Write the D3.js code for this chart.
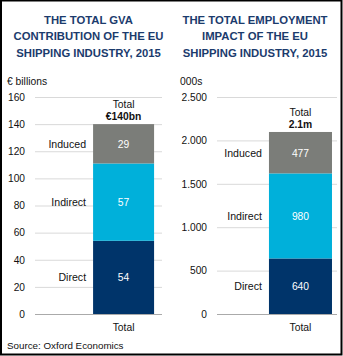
<!DOCTYPE html>
<html lang="en">
<head>
<meta charset="UTF-8">
<title>EU Shipping Industry 2015</title>
<script src="https://d3js.org/d3.v7.min.js"></script>
<style>
  body { margin: 0; background: #fff; }
  svg { font-family: "Liberation Sans", Arial, sans-serif; display: block; }
</style>
</head>
<body>
<div class="chart"></div>
<script>
    // data
    const categories = ["Direct", "Indirect", "Induced"];
    const gvaValues = [54, 57, 29];
    const jobValues = [640, 980, 477];
    const gvaTicks = [0, 20, 40, 60, 80, 100, 120, 140, 160];
    const jobTicks = [0, 500, 1000, 1500, 2000, 2500];
    const colors = ["#00346a", "#00b0da", "#7b7d79"];

    const W = 343, H = 356;
    const svg = d3.select(".chart").append("svg")
        .attr("width", W).attr("height", H);

    svg.append("rect").attr("x", 1).attr("y", 0.5).attr("width", W - 2.5).attr("height", H - 2)
        .attr("fill", "#fff").attr("stroke", "#000").attr("stroke-width", 2);

    const dotFmt = d3.formatLocale({decimal: ",", thousands: ".", grouping: [3], currency: ["", ""]}).format(",d");

    function panel(opt) {
        const y = d3.scaleLinear().domain([0, opt.ticks[opt.ticks.length - 1]]).range([314, 97]);
        const x = d3.scaleBand().domain(["Total"]).range([opt.gx0, opt.gx1])
            .paddingInner(0).paddingOuter(opt.pad).align(opt.align);
        const g = svg.append("g");

        // title
        g.append("text").attr("x", opt.tx).attr("y", 24)
            .attr("text-anchor", "middle").attr("font-size", 11.3).attr("font-weight", "bold").attr("fill", "#1b3b6d")
            .selectAll("tspan").data(opt.title).join("tspan")
            .attr("x", opt.tx).attr("dy", (d, i) => i === 0 ? 0 : 16.3).text(d => d);

        g.append("text").attr("x", opt.ux).attr("y", 85).attr("font-size", 10.3).attr("fill", "#111").text(opt.unit);

        // y axis
        const yAxis = d3.axisLeft(y).tickValues(opt.ticks).tickSize(-(opt.gx1 - opt.gx0)).tickPadding(opt.gx0 - opt.labelRight).tickFormat(opt.fmt);
        const ya = g.append("g").attr("transform", `translate(${opt.gx0},0)`).call(yAxis);
        ya.select(".domain").remove();
        ya.selectAll(".tick line").attr("stroke", d => d === 0 ? "#aaa" : "#d9d9d9");
        ya.selectAll(".tick text").attr("font-size", 10.2).attr("fill", "#111").attr("font-family", "Liberation Sans, Arial, sans-serif");

        // stacked bar
        const row = {Total: "Total"};
        categories.forEach((c, i) => row[c] = opt.values[i]);
        const series = d3.stack().keys(categories)([row]);
        const segs = g.selectAll(".seg").data(series).join("g").attr("class", "seg");
        segs.append("rect")
            .attr("x", x("Total")).attr("width", x.bandwidth())
            .attr("y", d => y(d[0][1])).attr("height", d => y(d[0][0]) - y(d[0][1]))
            .attr("fill", (d, i) => colors[i]);
        segs.append("text")
            .attr("x", x("Total") + x.bandwidth() / 2).attr("y", d => y((d[0][0] + d[0][1]) / 2) + 4)
            .attr("text-anchor", "middle").attr("font-size", 10.3).attr("fill", "#fff")
            .text(d => d[0].data[d.key]);
        segs.append("text")
            .attr("x", x("Total") - 7).attr("y", d => y((d[0][0] + d[0][1]) / 2) + 4)
            .attr("text-anchor", "end").attr("font-size", 10.6).attr("fill", "#111")
            .text(d => d.key);

        // total label
        const top = y(d3.sum(opt.values));
        const cx = x("Total") + x.bandwidth() / 2;
        g.append("text").attr("x", cx).attr("y", top - 16).attr("text-anchor", "middle")
            .attr("font-size", 10.3).attr("fill", "#111").text("Total");
        g.append("text").attr("x", cx).attr("y", top - 4).attr("text-anchor", "middle")
            .attr("font-size", 10.3).attr("font-weight", "bold").attr("fill", "#111").text(opt.total);

        // x axis label
        g.append("text").attr("x", cx).attr("y", 331).attr("text-anchor", "middle")
            .attr("font-size", 10.3).attr("fill", "#111").text("Total");
    }

    panel({
        title: ["THE TOTAL GVA", "CONTRIBUTION OF THE EU", "SHIPPING INDUSTRY, 2015"],
        tx: 88.5, unit: "€ billions", ux: 7,
        ticks: gvaTicks, values: gvaValues, total: "€140bn",
        gx0: 35, gx1: 162, labelRight: 25, pad: 0.541, align: 0.88, fmt: d3.format("d")
    });
    panel({
        title: ["THE TOTAL EMPLOYMENT", "IMPACT OF THE EU", "SHIPPING INDUSTRY, 2015"],
        tx: 255, unit: "000s", ux: 180,
        ticks: jobTicks, values: jobValues, total: "2.1m",
        gx0: 217, gx1: 337, labelRight: 207, pad: 0.452, align: 0.912, fmt: dotFmt
    });

    svg.append("text").attr("x", 7).attr("y", 349).attr("font-size", 9.8).attr("fill", "#111")
        .text("Source: Oxford Economics");
</script>
</body>
</html>
